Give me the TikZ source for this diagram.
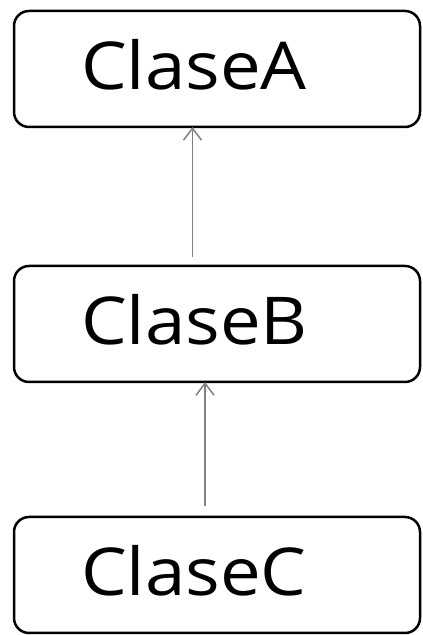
\documentclass[tikz,border=0pt]{standalone}
\usepackage{fontspec}
\setmainfont{Open Sans}[FakeStretch=1.1]
\usetikzlibrary{arrows.meta}

\begin{document}
\begin{tikzpicture}[
      x = 0.5pt,
      y = 0.5pt,
      clase/.style = {draw, line width=1.25pt, rounded corners=7.5pt,
        minimum height=58pt, text width=136pt, inner xsep=33.5pt,
        inner ysep=0pt, outer sep=0pt, align=left,
        text height=27pt, text depth=6pt,
        font=\fontsize{33}{40}\selectfont},
      herencia/.style = {draw=gray, line width=0.75pt,
        -{Straight Barb[length=6pt,width=9pt]}},
  ]

  \useasboundingbox (0,0) rectangle (422,635);

  \node[clase] (a) at (217,566) {ClaseA};
  \node[clase] (b) at (217,311) {ClaseB};
  \node[clase] (c) at (217,60) {ClaseC};

  \draw [herencia] ([xshift=-12.25pt, yshift=4.5pt]b.north) -- ([xshift=-12.25pt]a.south);
  \draw [herencia] ([xshift=-6pt, yshift=5.5pt]c.north) -- ([xshift=-6pt]b.south);

  \end{tikzpicture}
\end{document}
